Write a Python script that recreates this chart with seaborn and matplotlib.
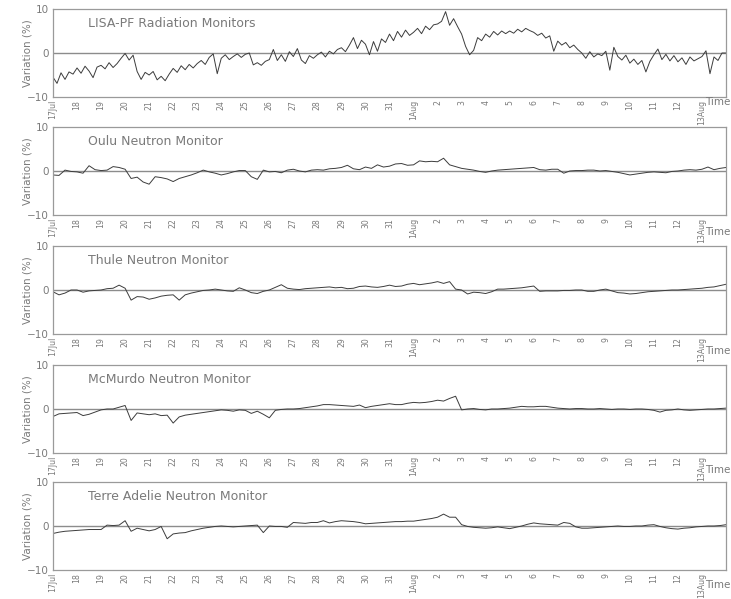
import numpy as np
import pandas as pd
import matplotlib
matplotlib.use("Agg")
import matplotlib.pyplot as plt
import matplotlib.ticker as mticker
import seaborn as sns

# ---- data (variation in %) ----
start = pd.Timestamp("2016-07-17")
n_days = 28

day_labels = ["17Jul", "18", "19", "20", "21", "22", "23", "24", "25", "26", "27",
              "28", "29", "30", "31", "1Aug", "2", "3", "4", "5", "6", "7", "8",
              "9", "10", "11", "12", "13Aug"]

titles = ["LISA-PF Radiation Monitors", "Oulu Neutron Monitor", "Thule Neutron Monitor",
          "McMurdo Neutron Monitor", "Terre Adelie Neutron Monitor"]

# 6 samples per day
lisa = [
    -5.5, -6.9, -4.5, -6.0, -4.3, -4.8,
    -3.4, -4.6, -3.0, -4.1, -5.6, -3.2,
    -2.8, -3.6, -2.2, -3.3, -2.4, -1.2,
    -0.1, -1.6, -0.5, -4.2, -6.0, -4.4,
    -5.0, -4.2, -6.1, -5.3, -6.3, -4.8,
    -3.5, -4.4, -2.9, -3.8, -2.6, -3.4,
    -2.4, -1.7, -2.6, -1.0, -0.2, -4.7,
    -1.2, -0.4, -1.5, -0.8, -0.2, -1.0,
    -0.3, 0.0, -2.7, -2.2, -2.8, -1.9,
    -1.5, 0.8, -1.7, -0.4, -1.9, 0.3,
    -0.8, 1.0, -1.6, -2.4, -0.6, -1.2,
    -0.4, 0.2, -0.9, 0.4, -0.2, 0.8,
    1.2, 0.3, 1.8, 3.5, 1.0, 2.9,
    2.0, -0.4, 2.6, 0.4, 3.2, 2.4,
    4.3, 2.8, 4.9, 3.6, 5.2, 4.0,
    4.7, 5.6, 4.4, 6.1, 5.3, 6.4,
    6.6, 7.2, 9.4, 6.3, 7.8, 6.0,
    4.3, 1.5, -0.4, 0.6, 3.5, 2.8,
    4.3, 3.6, 4.9, 4.1, 5.0, 4.4,
    5.0, 4.5, 5.4, 4.8, 5.6, 5.1,
    4.7, 4.0, 4.5, 3.4, 3.9, 0.4,
    2.7, 1.8, 2.4, 1.2, 1.8, 0.8,
    0.0, -1.2, 0.3, -0.9, -0.2, -0.6,
    0.4, -3.9, 1.3, -0.8, -1.6, -0.5,
    -2.3, -1.4, -2.6, -1.7, -4.3, -1.9,
    -0.4, 0.9, -1.5, -0.3, -1.8, -0.6,
    -2.0, -1.1, -2.6, -0.9, -1.8, -1.3,
    -0.8, 0.5, -4.7, -0.9, -1.7, 0.0,
    0.0,
]

# 4 samples per day
oulu = [
    -0.9, -1.0, 0.2, -0.1, -0.2, -0.5, 1.2, 0.3, 0.1, 0.2, 1.0, 0.8,
    0.4, -1.7, -1.4, -2.5, -3.0, -1.3, -1.5, -1.8, -2.4, -1.7, -1.3, -0.9,
    -0.4, 0.2, -0.2, -0.5, -0.9, -0.6, -0.2, 0.1, 0.1, -1.3, -1.9, 0.2,
    -0.2, -0.1, -0.4, 0.2, 0.4, 0.0, -0.2, 0.2, 0.3, 0.2, 0.5, 0.6,
    0.8, 1.3, 0.5, 0.3, 0.9, 0.6, 1.4, 0.9, 1.1, 1.6, 1.7, 1.3,
    1.4, 2.3, 2.1, 2.2, 2.1, 2.9, 1.4, 1.0, 0.6, 0.4, 0.2, -0.1,
    -0.3, 0.0, 0.2, 0.3, 0.4, 0.5, 0.6, 0.7, 0.8, 0.3, 0.2, 0.4,
    0.4, -0.5, 0.0, 0.1, 0.1, 0.2, 0.2, 0.0, 0.1, -0.1, -0.3, -0.6,
    -0.9, -0.7, -0.5, -0.3, -0.2, -0.3, -0.4, -0.1, 0.0, 0.2, 0.3, 0.2,
    0.4, 0.9, 0.3, 0.6, 0.8,
]

thule = [
    -0.4, -1.1, -0.7, 0.0, 0.0, -0.5, -0.2, -0.1, 0.0, 0.3, 0.4, 1.1,
    0.4, -2.3, -1.5, -1.6, -2.1, -1.8, -1.4, -1.2, -1.1, -2.3, -1.1, -0.7,
    -0.4, -0.1, 0.0, 0.2, 0.0, -0.2, -0.3, 0.5, 0.0, -0.6, -0.8, -0.3,
    0.0, 0.6, 1.2, 0.4, 0.2, 0.1, 0.3, 0.4, 0.5, 0.6, 0.7, 0.5,
    0.6, 0.3, 0.4, 0.8, 0.9, 0.7, 0.6, 0.8, 1.1, 0.8, 0.9, 1.3,
    1.5, 1.2, 1.4, 1.6, 1.9, 1.5, 1.9, 0.2, 0.0, -0.9, -0.5, -0.6,
    -0.8, -0.4, 0.2, 0.2, 0.3, 0.4, 0.5, 0.7, 0.9, -0.3, -0.2, -0.2,
    -0.2, -0.1, -0.1, 0.0, 0.0, -0.3, -0.3, 0.0, 0.2, -0.2, -0.6, -0.7,
    -0.9, -0.8, -0.6, -0.4, -0.3, -0.2, -0.1, 0.0, 0.0, 0.1, 0.2, 0.3,
    0.4, 0.6, 0.7, 1.0, 1.3,
]

mcmurdo = [
    -1.7, -1.1, -1.0, -0.9, -0.8, -1.5, -1.2, -0.7, -0.2, 0.0, 0.0, 0.4,
    0.8, -2.6, -0.9, -1.1, -1.3, -1.1, -1.5, -1.4, -3.2, -1.8, -1.4, -1.2,
    -1.0, -0.8, -0.6, -0.4, -0.2, -0.3, -0.5, -0.2, -0.3, -1.0, -0.5, -1.2,
    -2.0, -0.3, -0.1, 0.0, 0.0, 0.1, 0.3, 0.5, 0.7, 1.0, 1.0, 0.9,
    0.8, 0.7, 0.6, 0.9, 0.3, 0.6, 0.8, 1.0, 1.2, 1.0, 1.0, 1.3,
    1.5, 1.4, 1.5, 1.7, 2.0, 1.8, 2.4, 2.9, -0.2, 0.0, 0.1, -0.1,
    -0.2, 0.0, 0.0, 0.1, 0.2, 0.4, 0.6, 0.5, 0.5, 0.6, 0.6, 0.4,
    0.2, 0.1, 0.0, 0.1, 0.1, 0.0, 0.0, 0.1, 0.0, -0.1, 0.0, 0.0,
    -0.1, 0.0, 0.0, -0.1, -0.3, -0.7, -0.3, -0.2, 0.0, -0.2, -0.3, -0.2,
    -0.1, 0.0, 0.0, 0.1, 0.2,
]

terre_adelie = [
    -1.7, -1.4, -1.2, -1.1, -1.0, -0.9, -0.8, -0.8, -0.8, 0.2, 0.1, 0.2,
    1.2, -1.2, -0.5, -0.8, -1.1, -0.8, -0.1, -2.9, -1.8, -1.6, -1.5, -1.1,
    -0.8, -0.5, -0.3, -0.1, 0.0, -0.1, -0.2, -0.1, 0.0, 0.1, 0.2, -1.5,
    0.0, -0.1, -0.1, -0.3, 0.8, 0.7, 0.6, 0.8, 0.8, 1.2, 0.7, 1.0,
    1.2, 1.1, 1.0, 0.8, 0.5, 0.6, 0.7, 0.8, 0.9, 1.0, 1.0, 1.1,
    1.1, 1.3, 1.5, 1.7, 2.0, 2.7, 2.0, 2.0, 0.3, -0.1, -0.3, -0.4,
    -0.5, -0.4, -0.2, -0.4, -0.6, -0.3, 0.0, 0.4, 0.7, 0.5, 0.4, 0.3,
    0.2, 0.8, 0.6, -0.2, -0.5, -0.5, -0.4, -0.3, -0.2, -0.1, 0.0, -0.1,
    -0.1, 0.0, 0.0, 0.2, 0.3, -0.1, -0.4, -0.6, -0.7, -0.5, -0.4, -0.2,
    -0.1, 0.0, 0.0, 0.1, 0.3,
]

series = [(lisa, 6), (oulu, 4), (thule, 4), (mcmurdo, 4), (terre_adelie, 4)]

sns.set_style("white")
plt.rcParams["font.family"] = ["DejaVu Sans"]

W, H = 731, 599
fig = plt.figure(figsize=(W / 100, H / 100), dpi=100)

gray = "#7a7a7a"
tops = [9, 127, 246, 365, 482]
time_y = [-0.06, -0.19, -0.19, -0.19, -0.17]
ax_h = 88
ax_left, ax_w = 53, 673

tick_dates = pd.date_range(start, periods=len(day_labels), freq="D")

for top, ty, title, (vals, per_day) in zip(tops, time_y, titles, series):
    ax = fig.add_axes([ax_left / W, 1 - (top + ax_h) / H, ax_w / W, ax_h / H])
    t = start + pd.to_timedelta(np.arange(len(vals)) / per_day, unit="D")
    df = pd.DataFrame({"time": t, "variation": vals})

    ax.axhline(0, color="#8c8c8c", lw=1.0, zorder=1)
    sns.lineplot(data=df, x="time", y="variation", ax=ax,
                 color="#3c3c3c", linewidth=0.7, zorder=2)

    ax.set_xlim(start, start + pd.Timedelta(days=n_days))
    ax.set_ylim(-10, 10)
    ax.set_xticks(tick_dates)
    ax.set_xticklabels(day_labels, rotation=90, fontsize=5.6, color=gray)
    ax.set_yticks([-10, 0, 10])
    ax.set_yticklabels(["\u221210", "0", "10"], fontsize=7.5, color=gray)
    ax.yaxis.set_minor_locator(mticker.MultipleLocator(2))
    ax.tick_params(axis="x", direction="in", length=5, width=0.8, color=gray, pad=2)
    ax.tick_params(axis="y", which="major", direction="in", length=4, width=0.8, color=gray, pad=3)
    ax.tick_params(axis="y", which="minor", direction="in", length=2.5, width=0.6, color=gray)

    ax.set_xlabel("")
    ax.set_ylabel("Variation (%)", fontsize=7.5, color=gray)
    ax.yaxis.set_label_coords(-0.03, 0.5)

    for s in ax.spines.values():
        s.set_color("#9a9a9a")
        s.set_linewidth(0.9)

    ax.text(0.052, 0.83, title, transform=ax.transAxes, fontsize=9,
            color=gray, va="center", ha="left")
    ax.text(0.969, ty, "Time", transform=ax.transAxes, fontsize=7.5,
            color=gray, va="center", ha="left")

fig.savefig("out.png", dpi=100)
